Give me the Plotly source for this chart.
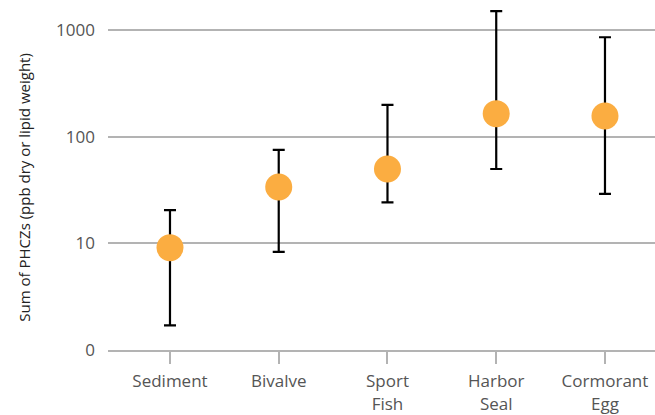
import plotly.graph_objects as go

# Median PHCZ concentrations by sample type, with lower/upper range
categories = ["Sediment", "Bivalve", "Sport<br>Fish", "Harbor<br>Seal", "Cormorant<br>Egg"]
median_vals = [9.1, 33.7, 49.7, 164, 156]
upper_vals = [20.5, 75, 198, 1500, 853]
lower_vals = [1.7, 8.3, 24.2, 49.7, 29]

y_tick_vals = [1, 10, 100, 1000]
y_tick_text = ["0", "10", "100", "1000"]
y_title = "Sum of PHCZs (ppb dry or lipid weight)"

err_plus = [u - m for u, m in zip(upper_vals, median_vals)]
err_minus = [m - l for m, l in zip(median_vals, lower_vals)]

grid_col = "#b3b3b3"
text_col = "#555555"
font_family = "Open Sans, Noto Sans, sans-serif"

fig = go.Figure(
    go.Scatter(
        x=categories,
        y=median_vals,
        mode="markers",
        marker=dict(size=27, color="#fbad41", line=dict(width=0)),
        error_y=dict(
            type="data",
            symmetric=False,
            array=err_plus,
            arrayminus=err_minus,
            color="black",
            thickness=2.2,
            width=6,
        ),
        showlegend=False,
    )
)

fig.update_layout(
    width=655,
    height=415,
    margin=dict(l=108, r=0, t=0, b=65),
    plot_bgcolor="white",
    paper_bgcolor="white",
    font=dict(family=font_family, color=text_col, size=16),
    xaxis=dict(
        type="category",
        range=[-0.57, 4.46],
        showgrid=False,
        showline=True,
        linecolor=grid_col,
        linewidth=2,
        zeroline=False,
        ticks="outside",
        ticklen=12,
        tickwidth=2,
        tickcolor=grid_col,
        ticklabelstandoff=3,
        tickfont=dict(size=17, color=text_col),
    ),
    yaxis=dict(
        type="log",
        range=[0, 3.28],
        tickvals=y_tick_vals,
        ticktext=y_tick_text,
        showgrid=True,
        gridcolor=grid_col,
        gridwidth=2,
        zeroline=False,
        showline=False,
        ticks="",
        ticklabelstandoff=12,
        tickfont=dict(size=17, color=text_col),
    ),
    annotations=[
        dict(
            text=y_title,
            textangle=-90,
            xref="paper",
            yref="paper",
            x=-0.154,
            y=0.466,
            xanchor="center",
            yanchor="middle",
            showarrow=False,
            font=dict(size=15, color="#222222"),
        )
    ],
)

fig.write_html("out.html")
